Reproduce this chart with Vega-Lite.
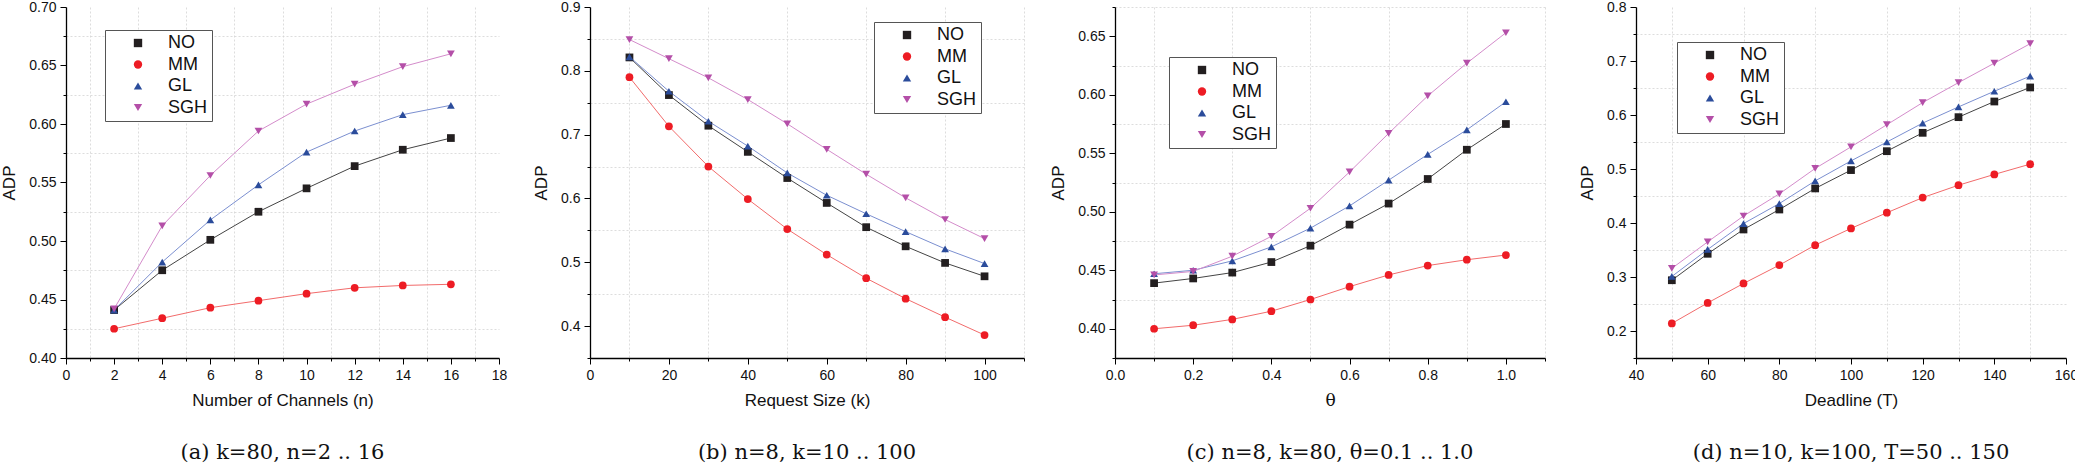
{
  "$schema": "https://vega.github.io/schema/vega-lite/v6.json",
  "background": "white",
  "padding": {"left": 0, "right": 0, "top": 0, "bottom": 0},
  "bounds": "flush",
  "spacing": 91,
  "config": {
    "view": {"stroke": null},
    "font": "Liberation Sans",
    "axis": {
      "domainColor": "#000000", "domainWidth": 1.3,
      "tickColor": "#000000", "tickWidth": 1,
      "labelFont": "Liberation Sans", "labelFontSize": 14, "labelColor": "#111111",
      "labelPadding": 4, "labelFlush": false, "labelOverlap": false, "labelBound": false,
      "titleFont": "Liberation Sans", "titleFontSize": 17, "titleFontWeight": "normal", "titleColor": "#111111",
      "titlePadding": 10,
      "grid": true, "gridColor": "#d4d4d4", "gridDash": [2, 2], "gridWidth": 0.8
    },
    "legend": {
      "strokeColor": "#555555", "fillColor": "white", "padding": 4,
      "labelFont": "Liberation Sans", "labelFontSize": 18, "labelColor": "#111111",
      "symbolSize": 70, "rowPadding": 3.5, "symbolOffset": 20, "labelOffset": 21
    },
    "title": {"font": "DejaVu Serif", "fontSize": 21, "fontWeight": "normal", "color": "#111111", "orient": "bottom", "anchor": "middle", "frame": "group", "offset": 34}
  },
  "resolve": {
    "scale": {"x": "independent", "y": "independent", "fill": "independent", "shape": "independent", "stroke": "independent"},
    "legend": {"fill": "independent", "shape": "independent"}
  },
  "datasets": {
    "a": [
      {"x": 2, "s": "NO", "v": 0.441}, {"x": 4, "s": "NO", "v": 0.475}, {"x": 6, "s": "NO", "v": 0.501}, {"x": 8, "s": "NO", "v": 0.525}, {"x": 10, "s": "NO", "v": 0.545}, {"x": 12, "s": "NO", "v": 0.564}, {"x": 14, "s": "NO", "v": 0.578}, {"x": 16, "s": "NO", "v": 0.588},
      {"x": 2, "s": "MM", "v": 0.425}, {"x": 4, "s": "MM", "v": 0.434}, {"x": 6, "s": "MM", "v": 0.443}, {"x": 8, "s": "MM", "v": 0.449}, {"x": 10, "s": "MM", "v": 0.455}, {"x": 12, "s": "MM", "v": 0.46}, {"x": 14, "s": "MM", "v": 0.462}, {"x": 16, "s": "MM", "v": 0.463},
      {"x": 2, "s": "GL", "v": 0.441}, {"x": 4, "s": "GL", "v": 0.482}, {"x": 6, "s": "GL", "v": 0.518}, {"x": 8, "s": "GL", "v": 0.548}, {"x": 10, "s": "GL", "v": 0.576}, {"x": 12, "s": "GL", "v": 0.594}, {"x": 14, "s": "GL", "v": 0.608}, {"x": 16, "s": "GL", "v": 0.616},
      {"x": 2, "s": "SGH", "v": 0.442}, {"x": 4, "s": "SGH", "v": 0.513}, {"x": 6, "s": "SGH", "v": 0.556}, {"x": 8, "s": "SGH", "v": 0.594}, {"x": 10, "s": "SGH", "v": 0.617}, {"x": 12, "s": "SGH", "v": 0.634}, {"x": 14, "s": "SGH", "v": 0.649}, {"x": 16, "s": "SGH", "v": 0.66}
    ],
    "b": [
      {"x": 10, "s": "NO", "v": 0.821}, {"x": 20, "s": "NO", "v": 0.762}, {"x": 30, "s": "NO", "v": 0.714}, {"x": 40, "s": "NO", "v": 0.673}, {"x": 50, "s": "NO", "v": 0.632}, {"x": 60, "s": "NO", "v": 0.593}, {"x": 70, "s": "NO", "v": 0.555}, {"x": 80, "s": "NO", "v": 0.525}, {"x": 90, "s": "NO", "v": 0.499}, {"x": 100, "s": "NO", "v": 0.478},
      {"x": 10, "s": "MM", "v": 0.79}, {"x": 20, "s": "MM", "v": 0.713}, {"x": 30, "s": "MM", "v": 0.65}, {"x": 40, "s": "MM", "v": 0.599}, {"x": 50, "s": "MM", "v": 0.552}, {"x": 60, "s": "MM", "v": 0.512}, {"x": 70, "s": "MM", "v": 0.475}, {"x": 80, "s": "MM", "v": 0.443}, {"x": 90, "s": "MM", "v": 0.414}, {"x": 100, "s": "MM", "v": 0.386},
      {"x": 10, "s": "GL", "v": 0.822}, {"x": 20, "s": "GL", "v": 0.768}, {"x": 30, "s": "GL", "v": 0.721}, {"x": 40, "s": "GL", "v": 0.682}, {"x": 50, "s": "GL", "v": 0.64}, {"x": 60, "s": "GL", "v": 0.605}, {"x": 70, "s": "GL", "v": 0.576}, {"x": 80, "s": "GL", "v": 0.548}, {"x": 90, "s": "GL", "v": 0.521}, {"x": 100, "s": "GL", "v": 0.498},
      {"x": 10, "s": "SGH", "v": 0.849}, {"x": 20, "s": "SGH", "v": 0.819}, {"x": 30, "s": "SGH", "v": 0.789}, {"x": 40, "s": "SGH", "v": 0.755}, {"x": 50, "s": "SGH", "v": 0.717}, {"x": 60, "s": "SGH", "v": 0.677}, {"x": 70, "s": "SGH", "v": 0.638}, {"x": 80, "s": "SGH", "v": 0.601}, {"x": 90, "s": "SGH", "v": 0.567}, {"x": 100, "s": "SGH", "v": 0.537}
    ],
    "c": [
      {"x": 0.1, "s": "NO", "v": 0.439}, {"x": 0.2, "s": "NO", "v": 0.443}, {"x": 0.3, "s": "NO", "v": 0.448}, {"x": 0.4, "s": "NO", "v": 0.457}, {"x": 0.5, "s": "NO", "v": 0.471}, {"x": 0.6, "s": "NO", "v": 0.489}, {"x": 0.7, "s": "NO", "v": 0.507}, {"x": 0.8, "s": "NO", "v": 0.528}, {"x": 0.9, "s": "NO", "v": 0.553}, {"x": 1.0, "s": "NO", "v": 0.575},
      {"x": 0.1, "s": "MM", "v": 0.4}, {"x": 0.2, "s": "MM", "v": 0.403}, {"x": 0.3, "s": "MM", "v": 0.408}, {"x": 0.4, "s": "MM", "v": 0.415}, {"x": 0.5, "s": "MM", "v": 0.425}, {"x": 0.6, "s": "MM", "v": 0.436}, {"x": 0.7, "s": "MM", "v": 0.446}, {"x": 0.8, "s": "MM", "v": 0.454}, {"x": 0.9, "s": "MM", "v": 0.459}, {"x": 1.0, "s": "MM", "v": 0.463},
      {"x": 0.1, "s": "GL", "v": 0.447}, {"x": 0.2, "s": "GL", "v": 0.45}, {"x": 0.3, "s": "GL", "v": 0.458}, {"x": 0.4, "s": "GL", "v": 0.47}, {"x": 0.5, "s": "GL", "v": 0.486}, {"x": 0.6, "s": "GL", "v": 0.505}, {"x": 0.7, "s": "GL", "v": 0.527}, {"x": 0.8, "s": "GL", "v": 0.549}, {"x": 0.9, "s": "GL", "v": 0.57}, {"x": 1.0, "s": "GL", "v": 0.594},
      {"x": 0.1, "s": "SGH", "v": 0.446}, {"x": 0.2, "s": "SGH", "v": 0.449}, {"x": 0.3, "s": "SGH", "v": 0.462}, {"x": 0.4, "s": "SGH", "v": 0.479}, {"x": 0.5, "s": "SGH", "v": 0.503}, {"x": 0.6, "s": "SGH", "v": 0.534}, {"x": 0.7, "s": "SGH", "v": 0.567}, {"x": 0.8, "s": "SGH", "v": 0.599}, {"x": 0.9, "s": "SGH", "v": 0.627}, {"x": 1.0, "s": "SGH", "v": 0.653}
    ],
    "d": [
      {"x": 50, "s": "NO", "v": 0.294}, {"x": 60, "s": "NO", "v": 0.343}, {"x": 70, "s": "NO", "v": 0.388}, {"x": 80, "s": "NO", "v": 0.425}, {"x": 90, "s": "NO", "v": 0.464}, {"x": 100, "s": "NO", "v": 0.498}, {"x": 110, "s": "NO", "v": 0.533}, {"x": 120, "s": "NO", "v": 0.567}, {"x": 130, "s": "NO", "v": 0.596}, {"x": 140, "s": "NO", "v": 0.625}, {"x": 150, "s": "NO", "v": 0.651},
      {"x": 50, "s": "MM", "v": 0.214}, {"x": 60, "s": "MM", "v": 0.252}, {"x": 70, "s": "MM", "v": 0.288}, {"x": 80, "s": "MM", "v": 0.322}, {"x": 90, "s": "MM", "v": 0.359}, {"x": 100, "s": "MM", "v": 0.39}, {"x": 110, "s": "MM", "v": 0.419}, {"x": 120, "s": "MM", "v": 0.447}, {"x": 130, "s": "MM", "v": 0.47}, {"x": 140, "s": "MM", "v": 0.49}, {"x": 150, "s": "MM", "v": 0.509},
      {"x": 50, "s": "GL", "v": 0.301}, {"x": 60, "s": "GL", "v": 0.351}, {"x": 70, "s": "GL", "v": 0.399}, {"x": 80, "s": "GL", "v": 0.436}, {"x": 90, "s": "GL", "v": 0.478}, {"x": 100, "s": "GL", "v": 0.515}, {"x": 110, "s": "GL", "v": 0.55}, {"x": 120, "s": "GL", "v": 0.585}, {"x": 130, "s": "GL", "v": 0.615}, {"x": 140, "s": "GL", "v": 0.644}, {"x": 150, "s": "GL", "v": 0.672},
      {"x": 50, "s": "SGH", "v": 0.316}, {"x": 60, "s": "SGH", "v": 0.365}, {"x": 70, "s": "SGH", "v": 0.413}, {"x": 80, "s": "SGH", "v": 0.454}, {"x": 90, "s": "SGH", "v": 0.501}, {"x": 100, "s": "SGH", "v": 0.541}, {"x": 110, "s": "SGH", "v": 0.582}, {"x": 120, "s": "SGH", "v": 0.623}, {"x": 130, "s": "SGH", "v": 0.66}, {"x": 140, "s": "SGH", "v": 0.696}, {"x": 150, "s": "SGH", "v": 0.732}
    ]
  },
  "hconcat": [
    {
      "width": 433, "height": 351,
      "data": {"name": "a"},
      "title": {"text": "(a)  k=80, n=2 .. 16"},
      "encoding": {
        "x": {"field": "x", "type": "quantitative", "scale": {"domain": [0, 18], "nice": false, "zero": false},
          "axis": {"title": "Number of Channels (n)", "values": [0,1,2,3,4,5,6,7,8,9,10,11,12,13,14,15,16,17,18],
            "labelExpr": "datum.value % 2 === 0 ? format(datum.value, 'd') : ''",
            "tickSize": {"condition": {"test": "datum.value % 2 === 0", "value": 6}, "value": 3},
            "gridOpacity": {"condition": {"test": "datum.value % 2 === 0", "value": 0}, "value": 1}}},
        "y": {"field": "v", "type": "quantitative", "scale": {"domain": [0.4, 0.7], "nice": false, "zero": false},
          "axis": {"title": "ADP", "values": [0.4,0.425,0.45,0.475,0.5,0.525,0.55,0.575,0.6,0.625,0.65,0.675,0.7],
            "labelExpr": "round(datum.value*1000) % 50 === 0 ? format(datum.value, '.2f') : ''",
            "tickSize": {"condition": {"test": "round(datum.value*1000) % 50 === 0", "value": 6}, "value": 3},
            "gridOpacity": {"condition": {"test": "round(datum.value*1000) % 50 === 0", "value": 0}, "value": 1}}}
      },
      "layer": [
        {"mark": {"type": "line", "strokeWidth": 1},
          "encoding": {"stroke": {"field": "s", "type": "nominal", "scale": {"domain": ["SGH", "GL", "MM", "NO"], "range": ["#d48ccb", "#7b8fd0", "#f26b6b", "#444444"]}, "legend": null}}},
        {"mark": {"type": "point", "filled": true, "size": 60, "opacity": 1},
          "encoding": {
            "fill": {"field": "s", "type": "nominal", "scale": {"domain": ["NO", "MM", "GL", "SGH"], "range": ["#231f20", "#ed1c24", "#2b4c9b", "#b44fa8"]}, "legend": {"title": null, "orient": "none", "legendX": 39, "legendY": 23}},
            "shape": {"field": "s", "type": "nominal", "scale": {"domain": ["NO", "MM", "GL", "SGH"], "range": ["square", "circle", "triangle-up", "triangle-down"]}, "legend": {"title": null, "orient": "none", "legendX": 39, "legendY": 23}}
          }}
      ]
    },
    {
      "width": 434, "height": 351,
      "data": {"name": "b"},
      "title": {"text": "(b)  n=8, k=10 .. 100"},
      "encoding": {
        "x": {"field": "x", "type": "quantitative", "scale": {"domain": [0, 110], "nice": false, "zero": false},
          "axis": {"title": "Request Size (k)", "values": [0,10,20,30,40,50,60,70,80,90,100,110],
            "labelExpr": "datum.value % 20 === 0 ? format(datum.value, 'd') : ''",
            "tickSize": {"condition": {"test": "datum.value % 20 === 0", "value": 6}, "value": 3},
            "gridOpacity": {"condition": {"test": "datum.value % 20 === 0", "value": 0}, "value": 1}}},
        "y": {"field": "v", "type": "quantitative", "scale": {"domain": [0.35, 0.9], "nice": false, "zero": false},
          "axis": {"title": "ADP", "values": [0.35,0.4,0.45,0.5,0.55,0.6,0.65,0.7,0.75,0.8,0.85,0.9],
            "labelExpr": "round(datum.value*100) % 10 === 0 ? format(datum.value, '.1f') : ''",
            "tickSize": {"condition": {"test": "round(datum.value*100) % 10 === 0", "value": 6}, "value": 3},
            "gridOpacity": {"condition": {"test": "round(datum.value*100) % 10 === 0", "value": 0}, "value": 1}}}
      },
      "layer": [
        {"mark": {"type": "line", "strokeWidth": 1},
          "encoding": {"stroke": {"field": "s", "type": "nominal", "scale": {"domain": ["SGH", "GL", "MM", "NO"], "range": ["#d48ccb", "#7b8fd0", "#f26b6b", "#444444"]}, "legend": null}}},
        {"mark": {"type": "point", "filled": true, "size": 60, "opacity": 1},
          "encoding": {
            "fill": {"field": "s", "type": "nominal", "scale": {"domain": ["NO", "MM", "GL", "SGH"], "range": ["#231f20", "#ed1c24", "#2b4c9b", "#b44fa8"]}, "legend": {"title": null, "orient": "none", "legendX": 284, "legendY": 15}},
            "shape": {"field": "s", "type": "nominal", "scale": {"domain": ["NO", "MM", "GL", "SGH"], "range": ["square", "circle", "triangle-up", "triangle-down"]}, "legend": {"title": null, "orient": "none", "legendX": 284, "legendY": 15}}
          }}
      ]
    },
    {
      "width": 430, "height": 351,
      "data": {"name": "c"},
      "title": {"text": "(c)  n=8, k=80, θ=0.1 .. 1.0"},
      "encoding": {
        "x": {"field": "x", "type": "quantitative", "scale": {"domain": [0, 1.1], "nice": false, "zero": false},
          "axis": {"title": "θ", "titleFont": "DejaVu Serif", "values": [0,0.1,0.2,0.3,0.4,0.5,0.6,0.7,0.8,0.9,1.0,1.1],
            "labelExpr": "round(datum.value*10) % 2 === 0 ? format(datum.value, '.1f') : ''",
            "tickSize": {"condition": {"test": "round(datum.value*10) % 2 === 0", "value": 6}, "value": 3},
            "gridOpacity": {"condition": {"test": "round(datum.value*10) % 2 === 0", "value": 0}, "value": 1}}},
        "y": {"field": "v", "type": "quantitative", "scale": {"domain": [0.375, 0.675], "nice": false, "zero": false},
          "axis": {"title": "ADP", "values": [0.375,0.4,0.425,0.45,0.475,0.5,0.525,0.55,0.575,0.6,0.625,0.65,0.675],
            "labelExpr": "round(datum.value*1000) % 50 === 0 ? format(datum.value, '.2f') : ''",
            "tickSize": {"condition": {"test": "round(datum.value*1000) % 50 === 0", "value": 6}, "value": 3},
            "gridOpacity": {"condition": {"test": "round(datum.value*1000) % 50 === 0", "value": 0}, "value": 1}}}
      },
      "layer": [
        {"mark": {"type": "line", "strokeWidth": 1},
          "encoding": {"stroke": {"field": "s", "type": "nominal", "scale": {"domain": ["SGH", "GL", "MM", "NO"], "range": ["#d48ccb", "#7b8fd0", "#f26b6b", "#444444"]}, "legend": null}}},
        {"mark": {"type": "point", "filled": true, "size": 60, "opacity": 1},
          "encoding": {
            "fill": {"field": "s", "type": "nominal", "scale": {"domain": ["NO", "MM", "GL", "SGH"], "range": ["#231f20", "#ed1c24", "#2b4c9b", "#b44fa8"]}, "legend": {"title": null, "orient": "none", "legendX": 54, "legendY": 50}},
            "shape": {"field": "s", "type": "nominal", "scale": {"domain": ["NO", "MM", "GL", "SGH"], "range": ["square", "circle", "triangle-up", "triangle-down"]}, "legend": {"title": null, "orient": "none", "legendX": 54, "legendY": 50}}
          }}
      ]
    },
    {
      "width": 430, "height": 351,
      "data": {"name": "d"},
      "title": {"text": "(d)  n=10, k=100, T=50 .. 150"},
      "encoding": {
        "x": {"field": "x", "type": "quantitative", "scale": {"domain": [40, 160], "nice": false, "zero": false},
          "axis": {"title": "Deadline (T)", "values": [40,50,60,70,80,90,100,110,120,130,140,150,160],
            "labelExpr": "datum.value % 20 === 0 ? format(datum.value, 'd') : ''",
            "tickSize": {"condition": {"test": "datum.value % 20 === 0", "value": 6}, "value": 3},
            "gridOpacity": {"condition": {"test": "datum.value % 20 === 0", "value": 0}, "value": 1}}},
        "y": {"field": "v", "type": "quantitative", "scale": {"domain": [0.15, 0.8], "nice": false, "zero": false},
          "axis": {"title": "ADP", "values": [0.15,0.2,0.25,0.3,0.35,0.4,0.45,0.5,0.55,0.6,0.65,0.7,0.75,0.8],
            "labelExpr": "round(datum.value*100) % 10 === 0 ? format(datum.value, '.1f') : ''",
            "tickSize": {"condition": {"test": "round(datum.value*100) % 10 === 0", "value": 6}, "value": 3},
            "gridOpacity": {"condition": {"test": "round(datum.value*100) % 10 === 0", "value": 0}, "value": 1}}}
      },
      "layer": [
        {"mark": {"type": "line", "strokeWidth": 1},
          "encoding": {"stroke": {"field": "s", "type": "nominal", "scale": {"domain": ["SGH", "GL", "MM", "NO"], "range": ["#d48ccb", "#7b8fd0", "#f26b6b", "#444444"]}, "legend": null}}},
        {"mark": {"type": "point", "filled": true, "size": 60, "opacity": 1},
          "encoding": {
            "fill": {"field": "s", "type": "nominal", "scale": {"domain": ["NO", "MM", "GL", "SGH"], "range": ["#231f20", "#ed1c24", "#2b4c9b", "#b44fa8"]}, "legend": {"title": null, "orient": "none", "legendX": 41, "legendY": 35}},
            "shape": {"field": "s", "type": "nominal", "scale": {"domain": ["NO", "MM", "GL", "SGH"], "range": ["square", "circle", "triangle-up", "triangle-down"]}, "legend": {"title": null, "orient": "none", "legendX": 41, "legendY": 35}}
          }}
      ]
    }
  ]
}
